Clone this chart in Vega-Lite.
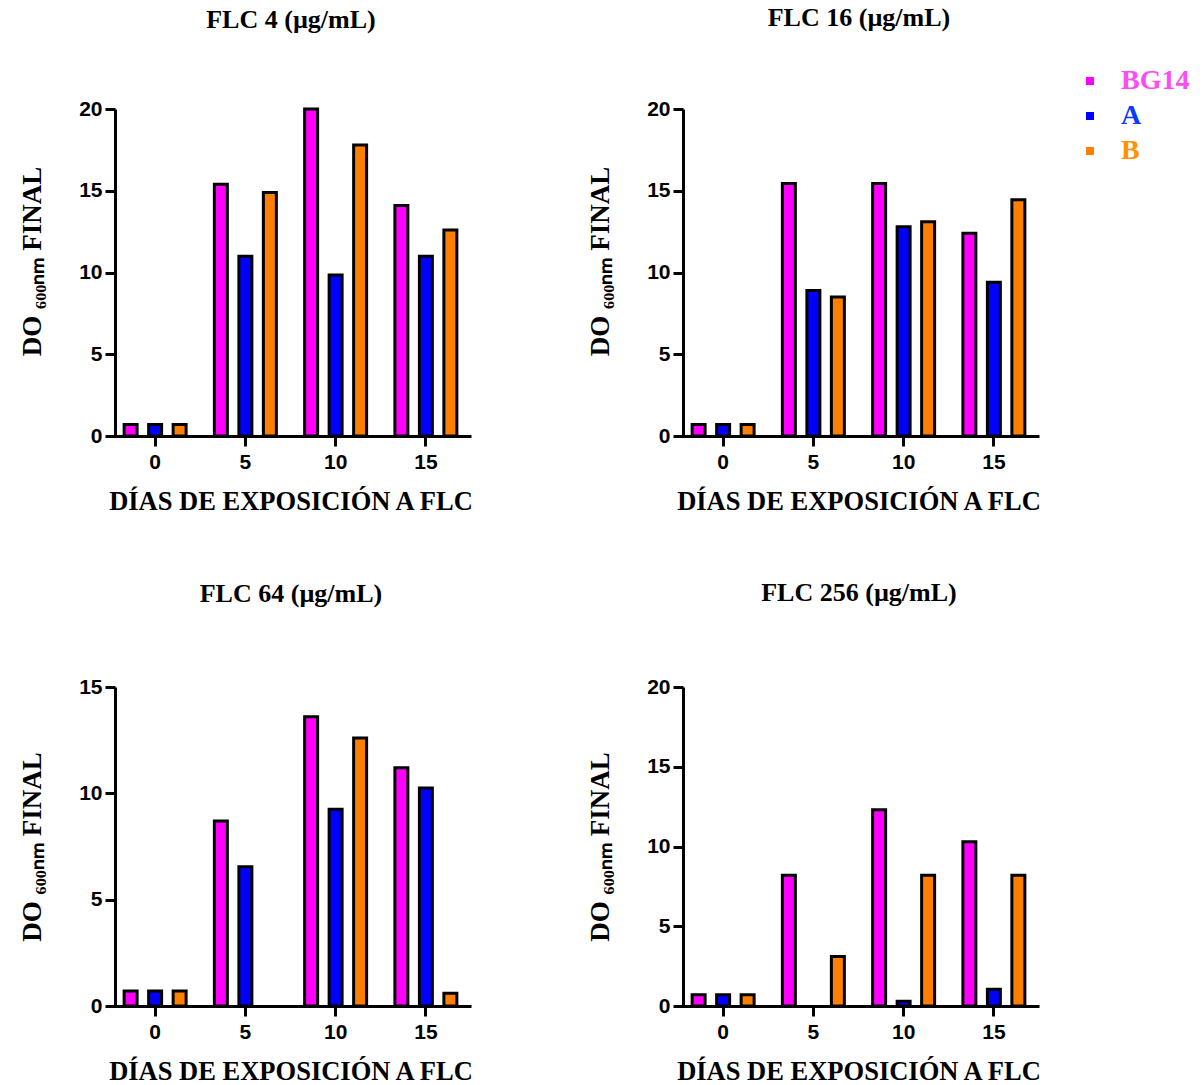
{
  "$schema": "https://vega.github.io/schema/vega-lite/v6.json",
  "padding": {"left": 18, "top": 5, "right": 5, "bottom": 5},
  "background": "white",
  "datasets": {
    "d": [
      {"panel": "FLC 4", "day": 0, "strain": "BG14", "value": 0.7},
      {"panel": "FLC 4", "day": 0, "strain": "A", "value": 0.7},
      {"panel": "FLC 4", "day": 0, "strain": "B", "value": 0.7},
      {"panel": "FLC 4", "day": 5, "strain": "BG14", "value": 15.4},
      {"panel": "FLC 4", "day": 5, "strain": "A", "value": 11.0},
      {"panel": "FLC 4", "day": 5, "strain": "B", "value": 14.9},
      {"panel": "FLC 4", "day": 10, "strain": "BG14", "value": 20.0},
      {"panel": "FLC 4", "day": 10, "strain": "A", "value": 9.85},
      {"panel": "FLC 4", "day": 10, "strain": "B", "value": 17.8},
      {"panel": "FLC 4", "day": 15, "strain": "BG14", "value": 14.1},
      {"panel": "FLC 4", "day": 15, "strain": "A", "value": 11.0},
      {"panel": "FLC 4", "day": 15, "strain": "B", "value": 12.6},
      {"panel": "FLC 16", "day": 0, "strain": "BG14", "value": 0.7},
      {"panel": "FLC 16", "day": 0, "strain": "A", "value": 0.7},
      {"panel": "FLC 16", "day": 0, "strain": "B", "value": 0.7},
      {"panel": "FLC 16", "day": 5, "strain": "BG14", "value": 15.45},
      {"panel": "FLC 16", "day": 5, "strain": "A", "value": 8.9},
      {"panel": "FLC 16", "day": 5, "strain": "B", "value": 8.5},
      {"panel": "FLC 16", "day": 10, "strain": "BG14", "value": 15.45},
      {"panel": "FLC 16", "day": 10, "strain": "A", "value": 12.8},
      {"panel": "FLC 16", "day": 10, "strain": "B", "value": 13.1},
      {"panel": "FLC 16", "day": 15, "strain": "BG14", "value": 12.4},
      {"panel": "FLC 16", "day": 15, "strain": "A", "value": 9.4},
      {"panel": "FLC 16", "day": 15, "strain": "B", "value": 14.45},
      {"panel": "FLC 64", "day": 0, "strain": "BG14", "value": 0.7},
      {"panel": "FLC 64", "day": 0, "strain": "A", "value": 0.7},
      {"panel": "FLC 64", "day": 0, "strain": "B", "value": 0.7},
      {"panel": "FLC 64", "day": 5, "strain": "BG14", "value": 8.7},
      {"panel": "FLC 64", "day": 5, "strain": "A", "value": 6.55},
      {"panel": "FLC 64", "day": 10, "strain": "BG14", "value": 13.6},
      {"panel": "FLC 64", "day": 10, "strain": "A", "value": 9.25},
      {"panel": "FLC 64", "day": 10, "strain": "B", "value": 12.6},
      {"panel": "FLC 64", "day": 15, "strain": "BG14", "value": 11.2},
      {"panel": "FLC 64", "day": 15, "strain": "A", "value": 10.25},
      {"panel": "FLC 64", "day": 15, "strain": "B", "value": 0.6},
      {"panel": "FLC 256", "day": 0, "strain": "BG14", "value": 0.7},
      {"panel": "FLC 256", "day": 0, "strain": "A", "value": 0.7},
      {"panel": "FLC 256", "day": 0, "strain": "B", "value": 0.7},
      {"panel": "FLC 256", "day": 5, "strain": "BG14", "value": 8.2},
      {"panel": "FLC 256", "day": 5, "strain": "B", "value": 3.1},
      {"panel": "FLC 256", "day": 10, "strain": "BG14", "value": 12.3},
      {"panel": "FLC 256", "day": 10, "strain": "A", "value": 0.3},
      {"panel": "FLC 256", "day": 10, "strain": "B", "value": 8.2},
      {"panel": "FLC 256", "day": 15, "strain": "BG14", "value": 10.3},
      {"panel": "FLC 256", "day": 15, "strain": "A", "value": 1.05},
      {"panel": "FLC 256", "day": 15, "strain": "B", "value": 8.2}
    ]
  },
  "config": {
    "view": {"stroke": null},
    "font": "Liberation Serif",
    "axis": {
      "domainColor": "black", "domainWidth": 3, "tickColor": "black", "tickWidth": 3, "tickSize": 10,
      "labelFont": "Liberation Sans", "labelFontSize": 21, "labelFontWeight": "bold", "labelColor": "black",
      "titleFont": "Liberation Serif", "titleFontWeight": "bold", "titleColor": "black", "grid": false
    },
    "axisX": {"labelAngle": 0, "titleFontSize": 26.5, "labelPadding": 5, "titlePadding": 16},
    "axisY": {"titleFontSize": 27, "titlePadding": 32, "labelPadding": 3},
    "title": {"font": "Liberation Serif", "fontSize": 26, "fontWeight": "bold", "color": "black"},
    "bar": {"stroke": "black", "strokeWidth": 3},
    "legend": {
      "orient": "none", "legendX": 961, "legendY": -42, "title": null, "symbolType": "square", "symbolSize": 64,
      "symbolStrokeWidth": 0, "symbolStrokeColor": "transparent",
      "labelFont": "Liberation Serif", "labelFontSize": 28, "labelFontWeight": "bold", "labelOffset": 17, "rowPadding": 7,
      "labelColor": {"expr": "datum.value == 'BG14' ? '#ff4cf0' : datum.value == 'A' ? '#0a3cff' : '#ff9200'"}
    }
  },
  "spacing": 65,
  "vconcat": [
    {
      "spacing": 110,
      "hconcat": [
        {
          "title": {"text": "FLC 4 (µg/mL)", "offset": 65},
          "width": 352, "height": 327,
          "data": {"name": "d"},
          "transform": [{"filter": "datum.panel == 'FLC 4'"}],
          "mark": {"type": "bar"},
          "encoding": {
            "x": {"field": "day", "type": "ordinal", "scale": {"range": [-5, 356], "paddingInner": 0, "paddingOuter": 0}, "axis": {"title": "DÍAS DE EXPOSICIÓN A FLC"}},
            "xOffset": {"field": "strain", "type": "nominal", "scale": {"domain": ["BG14", "A", "B"], "paddingInner": 0.47, "paddingOuter": 0.577}},
            "y": {"field": "value", "type": "quantitative", "scale": {"domain": [0, 20]}, "axis": {"values": [0, 5, 10, 15, 20], "title": "DO ₆₀₀ₙₘ FINAL", "titleY": 152}},
            "color": {"field": "strain", "type": "nominal", "scale": {"domain": ["BG14", "A", "B"], "range": ["#ff00ff", "#0000ff", "#ff8000"]}}
          }
        },
        {
          "title": {"text": "FLC 16 (µg/mL)", "offset": 67},
          "width": 352, "height": 327,
          "data": {"name": "d"},
          "transform": [{"filter": "datum.panel == 'FLC 16'"}],
          "mark": {"type": "bar"},
          "encoding": {
            "x": {"field": "day", "type": "ordinal", "scale": {"range": [-5, 356], "paddingInner": 0, "paddingOuter": 0}, "axis": {"title": "DÍAS DE EXPOSICIÓN A FLC"}},
            "xOffset": {"field": "strain", "type": "nominal", "scale": {"domain": ["BG14", "A", "B"], "paddingInner": 0.47, "paddingOuter": 0.577}},
            "y": {"field": "value", "type": "quantitative", "scale": {"domain": [0, 20]}, "axis": {"values": [0, 5, 10, 15, 20], "title": "DO ₆₀₀ₙₘ FINAL", "titleY": 152}},
            "color": {"field": "strain", "type": "nominal", "scale": {"domain": ["BG14", "A", "B"], "range": ["#ff00ff", "#0000ff", "#ff8000"]}}
          }
        }
      ]
    },
    {
      "spacing": 110,
      "hconcat": [
        {
          "title": {"text": "FLC 64 (µg/mL)", "offset": 69},
          "width": 352, "height": 319,
          "data": {"name": "d"},
          "transform": [{"filter": "datum.panel == 'FLC 64'"}],
          "mark": {"type": "bar"},
          "encoding": {
            "x": {"field": "day", "type": "ordinal", "scale": {"range": [-5, 356], "paddingInner": 0, "paddingOuter": 0}, "axis": {"title": "DÍAS DE EXPOSICIÓN A FLC"}},
            "xOffset": {"field": "strain", "type": "nominal", "scale": {"domain": ["BG14", "A", "B"], "paddingInner": 0.47, "paddingOuter": 0.577}},
            "y": {"field": "value", "type": "quantitative", "scale": {"domain": [0, 15]}, "axis": {"values": [0, 5, 10, 15], "title": "DO ₆₀₀ₙₘ FINAL"}},
            "color": {"field": "strain", "type": "nominal", "scale": {"domain": ["BG14", "A", "B"], "range": ["#ff00ff", "#0000ff", "#ff8000"]}}
          }
        },
        {
          "title": {"text": "FLC 256 (µg/mL)", "offset": 70},
          "width": 352, "height": 319,
          "data": {"name": "d"},
          "transform": [{"filter": "datum.panel == 'FLC 256'"}],
          "mark": {"type": "bar"},
          "encoding": {
            "x": {"field": "day", "type": "ordinal", "scale": {"range": [-5, 356], "paddingInner": 0, "paddingOuter": 0}, "axis": {"title": "DÍAS DE EXPOSICIÓN A FLC"}},
            "xOffset": {"field": "strain", "type": "nominal", "scale": {"domain": ["BG14", "A", "B"], "paddingInner": 0.47, "paddingOuter": 0.577}},
            "y": {"field": "value", "type": "quantitative", "scale": {"domain": [0, 20]}, "axis": {"values": [0, 5, 10, 15, 20], "title": "DO ₆₀₀ₙₘ FINAL"}},
            "color": {"field": "strain", "type": "nominal", "scale": {"domain": ["BG14", "A", "B"], "range": ["#ff00ff", "#0000ff", "#ff8000"]}}
          }
        }
      ]
    }
  ]
}
